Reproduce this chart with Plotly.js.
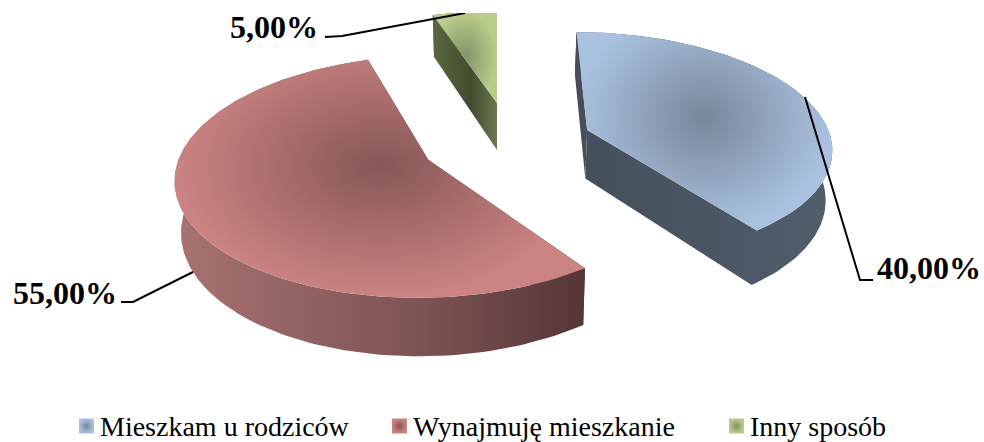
<!DOCTYPE html>
<html><head><meta charset="utf-8">
<script src="https://cdn.plot.ly/plotly-3.0.1.min.js"></script>
<style>html,body{margin:0;padding:0;background:#fff}#c{width:984px;height:442px}</style>
</head><body><div id="c"></div>
<script>
const categories = ["Mieszkam u rodziców", "Wynajmuję mieszkanie", "Inny sposób"];
const shares = [40, 55, 5];
const valueLabels = ["40,00%", "55,00%", "5,00%"];
const topEdge = ["#aac2df", "#cb8482", "#b9cd8b"];
const topCentre = ["#78879a", "#865656", "#84936a"];
const wallStops = [
  ["#444f5b", "#4b5764", "#515e6c"],
  ["#a87272", "#7d5353", "#553537"],
  ["#59673f", "#414c2e", "#6a7850"]
];

// 3-D view of the exploded pie
const VX = 497, VY = -702, FY = 6244, FX = 1810, DEPTH = 365, TAPER = 0.02;
const explodeX = [0.3736, -0.275, 0];
const explodeW = [7.505, 7.245, 7.757];
const gradientLift = [26, 26, 0];

function project(X, W, d) {
  return [VX + FX * X / W * (1 - d * TAPER), VY + (FY + d * DEPTH) / W];
}
function polygon(points) {
  return {x: points.map(p => p[0]), y: points.map(p => p[1])};
}
const traces = [];
let cum = 0;
const slices = shares.map((v, i) => {
  const a0 = cum / 100 * 2 * Math.PI; cum += v;
  const a1 = cum / 100 * 2 * Math.PI;
  return {i, a0, a1};
});
function rim(s, d, dir) {
  const n = Math.max(12, Math.round((s.a1 - s.a0) * 40)), out = [];
  for (let k = 0; k <= n; k++) {
    const t = s.a0 + (s.a1 - s.a0) * (dir > 0 ? k / n : 1 - k / n);
    out.push(project(explodeX[s.i] + Math.sin(t), explodeW[s.i] + Math.cos(t), d));
  }
  return out;
}
function addFill(pts, grad) {
  const p = polygon(pts);
  traces.push({type: "scatter", mode: "lines", x: p.x, y: p.y, fill: "toself",
    line: {width: 0}, fillgradient: grad, hoverinfo: "skip", showlegend: false});
}
[2, 1, 0].forEach(idx => {
  const s = slices[idx], i = s.i;
  const apexTop = project(explodeX[i], explodeW[i], 0), apexBot = project(explodeX[i], explodeW[i], 1);
  const rt = rim(s, 0, 1), rb = rim(s, 1, -1);
  const first = rt[0], firstB = rb[rb.length - 1];
  const xs = rt.concat(rb, [apexTop, apexBot]).map(p => p[0]);
  const wall = {type: "horizontal", start: Math.min(...xs), stop: Math.max(...xs),
    colorscale: [[0, wallStops[i][0]], [0.6, wallStops[i][1]], [1, wallStops[i][2]]]};
  addFill([apexTop, first, firstB, apexBot], wall);
  // outer wall and closing edge as one outline, so no seam shows at the corner
  addFill([apexBot].concat(rb, rt, [apexTop]), wall);
  // the radial centre follows the face's box: a zero-area spur lifts it to where the shading sits
  const minY = Math.min(...rt.map(p => p[1]));
  const spur = gradientLift[i] ? [first, [first[0], minY - gradientLift[i]], first] : [];
  addFill([apexTop].concat(spur, rt), {type: "radial", colorscale: [[0, topCentre[i]], [1, topEdge[i]]]});
});

// legend
const legendX = [86.5, 399.5, 736.5], legendY = 426, legendTextX = [98, 411, 748];
traces.push({type: "scatter", mode: "markers", x: legendX, y: [legendY, legendY, legendY],
  marker: {symbol: "square", size: 15, color: topEdge,
    gradient: {type: "radial", color: topCentre}, line: {width: 0}},
  hoverinfo: "skip", showlegend: false});

const annotations = categories.map((c, i) => ({
  xref: "x", yref: "y", x: legendTextX[i], y: legendY, text: c, showarrow: false,
  xanchor: "left", yanchor: "middle", font: {family: "Liberation Serif", size: 28, color: "#000"}
}));
const labelX = [983, 119, 320], labelY = [268, 293, 27];
valueLabels.forEach((t, i) => annotations.push({
  xref: "x", yref: "y", x: labelX[i], y: labelY[i], text: "<b>" + t + "</b>", showarrow: false,
  xanchor: "right", yanchor: "middle", font: {family: "Liberation Serif", size: 32, color: "#000"}
}));
const leaders = ["M 805 97 L 860 280 L 873 280", "M 193 272 L 133 302 L 121 302", "M 325 37 L 342 36 L 465 13"];
const shapes = leaders.map(p => ({type: "path", path: p, xref: "x", yref: "y", layer: "above",
  line: {color: "#000", width: 2}}));

Plotly.newPlot("c", traces, {
  width: 984, height: 442, margin: {l: 0, r: 0, t: 13, b: 0, pad: 0},
  paper_bgcolor: "#fff", plot_bgcolor: "#fff", showlegend: false,
  xaxis: {range: [0, 984], visible: false, fixedrange: true},
  yaxis: {range: [442, 13], visible: false, fixedrange: true},
  annotations, shapes
}, {displayModeBar: false, staticPlot: true});
</script></body></html>
